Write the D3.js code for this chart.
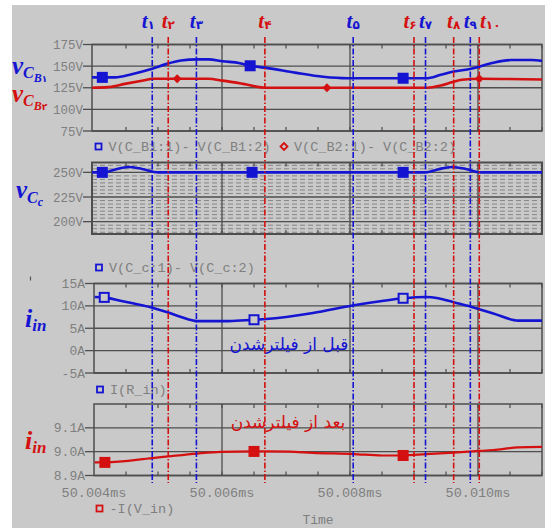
<!DOCTYPE html>
<html>
<head>
<meta charset="utf-8">
<script src="https://cdn.jsdelivr.net/npm/d3@7"></script>
<style>
  body { margin: 0; background: #fff; }
  svg { display: block; }
  .lbl { font-family: "Liberation Mono", "DejaVu Sans Mono", monospace; fill: #7f7f7f; }
</style>
</head>
<body>
<div id="chart"></div>
<script>
// time axis (ms)
var xTicks = [50.004, 50.006, 50.008, 50.010];
var xTickLabels = ["50.004ms", "50.006ms", "50.008ms", "50.010ms"];

// t1..t10 markers
var markTimes = [50.00491, 50.00516, 50.00560, 50.00667, 50.00805, 50.00900, 50.00918, 50.00962, 50.00988, 50.01002];
var markSubs = ["۱", "۲", "۳", "۴", "۵", "۶", "۷", "۸", "۹", "۱۰"];

// panel 1: vCB1 / vCB2
var vcbTicks = [75, 100, 125, 150, 175];
var vcb1Time = [50.00397, 50.00433, 50.00459, 50.00491, 50.00514, 50.00536, 50.00561, 50.00579, 50.00601, 50.00628, 50.00644, 50.00669,
                50.00714, 50.00758, 50.00796, 50.00883, 50.00919, 50.00942, 50.00962, 50.00989, 50.01003, 50.01024, 50.01052, 50.01084, 50.01100];
var vcb1Vals = [137, 137, 140.7, 147, 152.6, 156.4, 157.8, 157.8, 155.6, 153.4, 150.4, 148,
                142.5, 137.7, 136, 136, 136, 140, 143.7, 147, 149.6, 154, 157, 157, 156];
var vcb1MarkTime = [50.00413, 50.00644, 50.00883];
var vcb1MarkVals = [137, 150.4, 136];
var vcb2Time = [50.00397, 50.00422, 50.00448, 50.00481, 50.00491, 50.00530, 50.00579, 50.00601, 50.00633, 50.00669, 50.00764,
                50.00921, 50.00942, 50.00959, 50.00975, 50.01003, 50.01100];
var vcb2Vals = [125, 125.7, 129.5, 134, 135.4, 135.4, 135.4, 133.2, 129.5, 125, 125,
                125, 127.6, 131.3, 134.3, 135.4, 134.6];
var vcb2MarkTime = [50.00530, 50.00764, 50.01002];
var vcb2MarkVals = [135.4, 125, 135.4];

// panel 2: vCc
var vccTicks = [200, 225, 250];
var vccTime = [50.00397, 50.00416, 50.00433, 50.00454, 50.00475, 50.00500, 50.00918, 50.00937, 50.00959, 50.00981, 50.01003, 50.01100];
var vccVals = [250, 250, 253, 255.5, 253.5, 250, 250, 253, 255.5, 253.5, 250, 250];
var vccMarkTime = [50.00413, 50.00647, 50.00883];
var vccMarkVals = [250, 250, 250];

// panel 3: iin before filter
var iinTicks = [-5, 0, 5, 10, 15];
var iinTime = [50.00401, 50.00416, 50.00443, 50.00491, 50.00516, 50.00536, 50.00561, 50.00579, 50.00611, 50.00650, 50.00669, 50.00742,
               50.00806, 50.00850, 50.00883, 50.00919, 50.00938, 50.00962, 50.00989, 50.01003, 50.01024, 50.01063, 50.01100];
var iinVals = [12.0, 11.9, 11.1, 9.6, 8.5, 7.5, 6.6, 6.6, 6.6, 6.9, 7.05, 8.4,
               10.15, 11.1, 11.7, 12.0, 11.7, 10.8, 9.8, 9.2, 8.3, 6.7, 6.7];
var iinMarkTime = [50.00416, 50.00650, 50.00883];
var iinMarkVals = [11.9, 6.9, 11.7];

// panel 4: iin after filter
var ifTicks = [8.9, 9.0, 9.1];
var ifTime = [50.00401, 50.00417, 50.00491, 50.00516, 50.00561, 50.00598, 50.00650, 50.00669, 50.00704, 50.00742,
              50.00806, 50.00850, 50.00883, 50.00919, 50.00962, 50.01003, 50.01024, 50.01063, 50.01100];
var ifVals = [8.955, 8.955, 8.973, 8.98, 8.992, 8.999, 9.001, 9.001, 9.0, 8.995,
              8.99, 8.984, 8.984, 8.99, 8.996, 9.003, 9.007, 9.018, 9.02];
var ifMarkTime = [50.00417, 50.00650, 50.00883];
var ifMarkVals = [8.955, 9.001, 8.984];

var BLUE = "#1414d2", RED = "#d41010", FRAME = "#4e4e4e";

var svg = d3.select("#chart").append("svg").attr("width", 545).attr("height", 528);
svg.append("rect").attr("x", 12).attr("y", 5).attr("width", 533).attr("height", 523).attr("fill", "#c9c9c9");

var x = d3.scaleLinear().domain([50.004, 50.011]).range([94, 542]);
var minorTicks = d3.range(50.004, 50.0111, 0.0005).filter(function (t) { return t > 50.0041; });

function panel(o) {
  var y = d3.scaleLinear().domain(o.domain).range([o.bottom, o.top]);
  var g = svg.append("g");
  var id = "clip" + o.name;
  svg.append("clipPath").attr("id", id).append("rect")
    .attr("x", o.left).attr("y", o.top).attr("width", 542 - o.left).attr("height", o.bottom - o.top);

  if (o.dotted) {
    d3.range(-4, 19).forEach(function (k) {
      if (k % 7 === 0) return;
      var v = 200 + k * 25 / 7;
      if (v <= o.domain[0] || v >= o.domain[1]) return;
      g.append("line").attr("x1", o.left).attr("x2", 542).attr("y1", y(v)).attr("y2", y(v))
        .attr("stroke", "#858585").attr("stroke-width", 1).attr("stroke-dasharray", "5,3");
    });
  }
  // grid
  g.selectAll(".hg").data(o.ticks).enter().append("line")
    .attr("x1", o.left).attr("x2", 542)
    .attr("y1", function (d) { return y(d); }).attr("y2", function (d) { return y(d); })
    .attr("stroke", FRAME).attr("stroke-width", 1.3);
  g.selectAll(".vg").data(xTicks.slice(1)).enter().append("line")
    .attr("x1", function (d) { return x(d); }).attr("x2", function (d) { return x(d); })
    .attr("y1", o.top).attr("y2", o.bottom)
    .attr("stroke", FRAME).attr("stroke-width", 1.3);
  // minor ticks top/bottom
  minorTicks.forEach(function (t) {
    g.append("line").attr("x1", x(t)).attr("x2", x(t)).attr("y1", o.top).attr("y2", o.top + 4)
      .attr("stroke", FRAME).attr("stroke-width", 1.2);
    g.append("line").attr("x1", x(t)).attr("x2", x(t)).attr("y1", o.bottom).attr("y2", o.bottom - 4)
      .attr("stroke", FRAME).attr("stroke-width", 1.2);
  });
  g.append("rect").attr("x", o.left).attr("y", o.top).attr("width", 542 - o.left).attr("height", o.bottom - o.top)
    .attr("fill", "none").attr("stroke", FRAME).attr("stroke-width", o.dotted ? 2 : 1.5);

  // y ticks + labels
  o.ticks.forEach(function (d) {
    g.append("line").attr("x1", o.left - 9).attr("x2", o.left).attr("y1", y(d)).attr("y2", y(d))
      .attr("stroke", FRAME).attr("stroke-width", 1.3);
    g.append("text").attr("class", "lbl").attr("x", o.left - 9).attr("y", y(d) + 4.5)
      .attr("text-anchor", "end").style("font-size", o.fs + "px").text(o.fmt(d));
  });

  var line = d3.line().x(function (d) { return x(d[0]); }).y(function (d) { return y(d[1]); })
    .curve(d3.curveMonotoneX);
  o.series.forEach(function (s) {
    g.append("path").datum(d3.zip(s.t, s.v)).attr("d", line)
      .attr("clip-path", "url(#" + id + ")")
      .attr("fill", "none").attr("stroke", s.color).attr("stroke-width", s.w || 2.6);
    d3.zip(s.mt, s.mv).forEach(function (m) {
      var cx = x(m[0]), cy = y(m[1]);
      if (s.marker === "diamond") {
        g.append("path").attr("d", "M" + cx + "," + (cy - 4.5) + "L" + (cx + 4.5) + "," + cy + "L" + cx + "," + (cy + 4.5) + "L" + (cx - 4.5) + "," + cy + "Z")
          .attr("fill", s.color);
      } else {
        g.append("rect").attr("x", cx - 4.5).attr("y", cy - 4.5).attr("width", 9).attr("height", 9)
          .attr("fill", s.hollow ? "#c9c9c9" : s.color).attr("stroke", s.color).attr("stroke-width", 2);
      }
    });
  });
  return y;
}

panel({ name: "p1", left: 92, top: 44.5, bottom: 131, domain: [75, 175], ticks: vcbTicks, fs: 12.5,
  fmt: function (d) { return d + "V"; },
  series: [
    { t: vcb1Time, v: vcb1Vals, mt: vcb1MarkTime, mv: vcb1MarkVals, color: BLUE },
    { t: vcb2Time, v: vcb2Vals, mt: vcb2MarkTime, mv: vcb2MarkVals, color: RED, marker: "diamond" }
  ] });
panel({ name: "p2", left: 92, top: 162.5, bottom: 234, domain: [187.5, 260], ticks: vccTicks, fs: 12.5, dotted: true,
  fmt: function (d) { return d + "V"; },
  series: [{ t: vccTime, v: vccVals, mt: vccMarkTime, mv: vccMarkVals, color: BLUE }] });
panel({ name: "p3", left: 94, top: 283.5, bottom: 373, domain: [-5, 15], ticks: iinTicks, fs: 13,
  fmt: function (d) { return d + "A"; },
  series: [{ t: iinTime, v: iinVals, mt: iinMarkTime, mv: iinMarkVals, color: BLUE, hollow: true }] });
panel({ name: "p4", left: 94, top: 404, bottom: 475.5, domain: [8.9, 9.2], ticks: ifTicks, fs: 13,
  fmt: function (d) { return d3.format(".1f")(d) + "A"; },
  series: [{ t: ifTime, v: ifVals, mt: ifMarkTime, mv: ifMarkVals, color: RED, w: 2.2 }] });

// x tick labels
svg.selectAll(".xl").data(xTicks).enter().append("text").attr("class", "lbl")
  .attr("x", function (d) { return x(d); }).attr("y", 497).attr("text-anchor", "middle")
  .style("font-size", "13.5px").text(function (d, i) { return xTickLabels[i]; });
svg.append("text").attr("class", "lbl").attr("x", 318).attr("y", 524).attr("text-anchor", "middle")
  .style("font-size", "13px").text("Time");

// legends
function legend(x0, y0, color, shape, label) {
  if (shape === "diamond") {
    svg.append("path").attr("d", "M" + x0 + "," + (y0 - 3.5) + "L" + (x0 + 3.5) + "," + y0 + "L" + x0 + "," + (y0 + 3.5) + "L" + (x0 - 3.5) + "," + y0 + "Z")
      .attr("fill", "none").attr("stroke", color).attr("stroke-width", 1.8);
  } else {
    svg.append("rect").attr("x", x0 - 3).attr("y", y0 - 3).attr("width", 6).attr("height", 6)
      .attr("fill", "none").attr("stroke", color).attr("stroke-width", 1.8);
  }
  svg.append("text").attr("class", "lbl").attr("x", x0 + 10).attr("y", y0 + 4.5)
    .style("font-size", "13.5px").text(label);
}
legend(98.5, 146.5, BLUE, "square", "V(C_B1:1)- V(C_B1:2)");
legend(284, 146.5, RED, "diamond", "V(C_B2:1)- V(C_B2:2)");
legend(99, 267.5, BLUE, "square", "V(C_c:1)- V(C_c:2)");
legend(100, 389.5, BLUE, "square", "I(R_in)");
legend(99.5, 508.5, RED, "square", "-I(V_in)");

// Persian annotations
svg.append("text").attr("x", 289).attr("y", 350).attr("text-anchor", "middle")
  .attr("fill", BLUE).style("font-family", "'DejaVu Sans', 'Noto Sans', sans-serif").style("font-size", "17px")
  .text("قبل از فیلترشدن");
svg.append("text").attr("x", 288).attr("y", 428).attr("text-anchor", "middle")
  .attr("fill", RED).style("font-family", "'DejaVu Sans', 'Noto Sans', sans-serif").style("font-size", "17px")
  .text("بعد از فیلترشدن");

// left axis symbols
function sym(x0, y0, color, parts) {
  var t = svg.append("text").attr("x", x0).attr("y", y0).attr("fill", color);
  parts.forEach(function (p) {
    t.append("tspan").attr("dy", p.dy || 0)
      .style("font-family", p.sans ? "'DejaVu Sans', sans-serif" : "'Liberation Serif', serif")
      .style("font-style", p.sans ? "normal" : "italic").style("font-weight", "bold")
      .style("font-size", p.fs + "px").text(p.s);
  });
}
sym(12, 74, BLUE, [{ s: "v", fs: 25 }, { s: "C", fs: 16, dy: 4 }, { s: "B", fs: 12, dy: 4 }, { s: "۱", fs: 9, sans: true }]);
sym(12, 102, RED, [{ s: "v", fs: 25 }, { s: "C", fs: 16, dy: 4 }, { s: "B", fs: 12, dy: 4 }, { s: "۲", fs: 9, sans: true }]);
sym(16, 198, BLUE, [{ s: "v", fs: 25 }, { s: "C", fs: 16, dy: 5 }, { s: "c", fs: 12, dy: 3 }]);
sym(25, 327, BLUE, [{ s: "i", fs: 26 }, { s: "in", fs: 17, dy: 4 }]);
sym(25, 449, RED, [{ s: "i", fs: 26 }, { s: "in", fs: 17, dy: 4 }]);
svg.append("line").attr("x1", 30.5).attr("x2", 30.5).attr("y1", 276.5).attr("y2", 280.5)
  .attr("stroke", "#555").attr("stroke-width", 1.2);

// t1..t10 dash-dot lines and labels
var labelShift = { 0: -4, 5: -4, 9: 11 };
markTimes.forEach(function (t, i) {
  var c = i % 2 === 0 ? BLUE : RED;
  svg.append("line").attr("x1", x(t)).attr("x2", x(t)).attr("y1", 37).attr("y2", 483)
    .attr("stroke", c).attr("stroke-width", 1.6).attr("stroke-dasharray", "6,2,1.5,2");
  var lt = svg.append("text").attr("x", x(t) + (labelShift[i] || 0)).attr("y", 28)
    .attr("text-anchor", "middle").attr("fill", c);
  lt.append("tspan").style("font-family", "'Liberation Serif', serif").style("font-style", "italic")
    .style("font-weight", "bold").style("font-size", "21px").text("t");
  lt.append("tspan").attr("dy", 1).style("font-family", "'DejaVu Sans', sans-serif")
    .style("font-weight", "bold").style("font-size", "12px").text(markSubs[i]);
});
</script>
</body>
</html>
